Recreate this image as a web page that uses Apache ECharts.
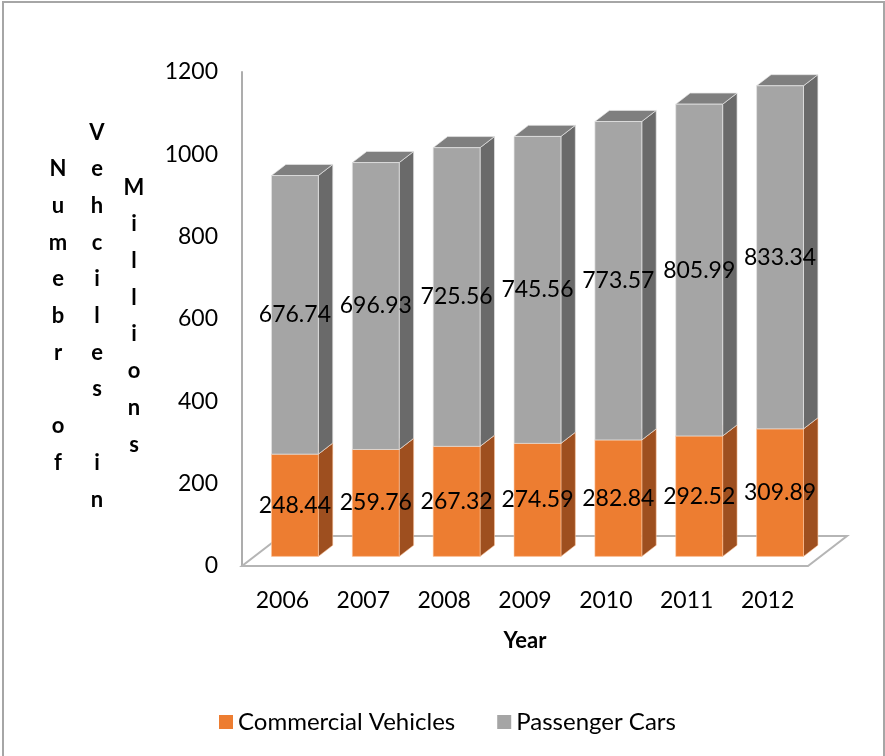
<!DOCTYPE html>
<html>
<head>
<meta charset="utf-8">
<script src="https://cdn.jsdelivr.net/npm/echarts@6/dist/echarts.min.js"></script>
<style>
html,body{margin:0;padding:0;background:#fff;}
#chart{width:885px;height:756px;}
</style>
</head>
<body>
<div id="chart"></div>
<script>
var years = ['2006','2007','2008','2009','2010','2011','2012'];
var commercialVehicles = [248.44, 259.76, 267.32, 274.59, 282.84, 292.52, 309.89];
var passengerCars = [676.74, 696.93, 725.56, 745.56, 773.57, 805.99, 833.34];
var yTicks = {min: 0, max: 1200, interval: 200};
var seriesNames = ['Commercial Vehicles', 'Passenger Cars'];
var titleColumns = ['Numebr of', 'Vehciles in', 'Millions'];
var xTitle = 'Year';

var FONT = 'Lato, "Open Sans", "Liberation Sans", sans-serif';
// projection of the depth direction (floor full depth)
var DEPTH = [39, -30];
var BAR_FRONT = 0.32, BAR_BACK = 0.69, BAR_W = 0.58;

var palette = {
  orange: {front: '#ED7D31', side: '#9E4F1F', top: '#C4631F', edge: 'rgba(255,200,160,0.55)'},
  gray:   {front: '#A5A5A5', side: '#6A6A6A', top: '#7F7F7F', edge: 'rgba(230,230,230,0.7)'}
};

function makeBarData(base, vals) {
  return vals.map(function (v, i) { return [i, base ? base[i] : 0, v]; });
}

function barRenderer(pal) {
  return function (params, api) {
    var i = api.value(0), base = api.value(1), v = api.value(2);
    var p0 = api.coord([i, base]);
    var p1 = api.coord([i, base + v]);
    var band = api.size([1, 0])[0];
    var w = band * BAR_W;
    var fx = DEPTH[0] * BAR_FRONT, fy = DEPTH[1] * BAR_FRONT;
    var dx = DEPTH[0] * (BAR_BACK - BAR_FRONT), dy = DEPTH[1] * (BAR_BACK - BAR_FRONT);
    var L = p0[0] - w / 2 + fx, R = p0[0] + w / 2 + fx;
    var B = p0[1] + fy, T = p1[1] + fy;
    var edge = {stroke: pal.edge, lineWidth: 1};
    return {
      type: 'group',
      children: [
        {type: 'polygon', shape: {points: [[R, B], [R + dx, B + dy], [R + dx, T + dy], [R, T]]},
         style: Object.assign({fill: pal.side}, edge)},
        {type: 'polygon', shape: {points: [[L, T], [R, T], [R + dx, T + dy], [L + dx, T + dy]]},
         style: Object.assign({fill: pal.top}, edge)},
        {type: 'rect', shape: {x: L, y: T, width: R - L, height: B - T},
         style: Object.assign({fill: pal.front}, edge)},
        {type: 'text', x: (L + R) / 2, y: (T + B) / 2,
         style: {text: v.toFixed(2), fill: '#000', font: '23px ' + FONT, align: 'center', verticalAlign: 'middle'}}
      ]
    };
  };
}

function floorRenderer(params, api) {
  var cs = params.coordSys;
  var x0 = cs.x, x1 = cs.x + cs.width, y = cs.y + cs.height;
  return {
    type: 'polygon',
    shape: {points: [[x0, y], [x1, y], [x1 + DEPTH[0], y + DEPTH[1]], [x0 + DEPTH[0], y + DEPTH[1]]]},
    style: {fill: '#fff', stroke: '#B5B5B5', lineWidth: 2},
    z: 1
  };
}

var chart = echarts.init(document.getElementById('chart'), null, {renderer: 'canvas'});

var titleGraphics = titleColumns.map(function (s, k) {
  return {
    type: 'text',
    x: [58, 97, 134][k],
    y: 316,
    style: {
      text: s.split('').join('\n'),
      font: 'bold 22px ' + FONT,
      fill: '#000',
      align: 'center',
      verticalAlign: 'middle',
      lineHeight: 36.7
    }
  };
});

chart.setOption({
  animation: false,
  backgroundColor: '#fff',
  grid: {left: 242, right: 77, top: 72, bottom: 190, containLabel: false},
  legend: {
    data: seriesNames,
    top: 705,
    left: 214,
    icon: 'rect',
    itemWidth: 14,
    itemHeight: 14,
    itemGap: 42,
    textStyle: {fontFamily: FONT, fontSize: 24, color: '#000'}
  },
  xAxis: {
    type: 'category',
    data: years,
    name: xTitle,
    nameLocation: 'middle',
    nameGap: 64,
    nameTextStyle: {fontFamily: FONT, fontSize: 22, fontWeight: 'bold', color: '#000'},
    axisLine: {show: false},
    axisTick: {show: false},
    axisLabel: {fontFamily: FONT, fontSize: 23, color: '#000', margin: 23}
  },
  yAxis: {
    type: 'value',
    min: yTicks.min, max: yTicks.max, interval: yTicks.interval,
    axisLine: {show: true, lineStyle: {color: '#ADADAD', width: 2}},
    axisTick: {show: false},
    splitLine: {show: false},
    axisLabel: {fontFamily: FONT, fontSize: 23, color: '#000', margin: 24,
                formatter: function (v) { return String(v); }}
  },
  graphic: [
    {type: 'rect', shape: {x: 3, y: 2, width: 881, height: 780}, style: {fill: 'none', stroke: '#A6A6A6', lineWidth: 2}, silent: true}
  ].concat(titleGraphics),
  series: [
    {type: 'custom', name: 'floor', renderItem: floorRenderer, data: [[0, 0]], z: 1, silent: true},
    {type: 'custom', name: seriesNames[0], renderItem: barRenderer(palette.orange),
     itemStyle: {color: palette.orange.front}, data: makeBarData(null, commercialVehicles), z: 2,
     encode: {x: 0, y: [1, 2]}},
    {type: 'custom', name: seriesNames[1], renderItem: barRenderer(palette.gray),
     itemStyle: {color: palette.gray.front}, data: makeBarData(commercialVehicles, passengerCars), z: 3,
     encode: {x: 0, y: [1, 2]}}
  ]
});
</script>
</body>
</html>
